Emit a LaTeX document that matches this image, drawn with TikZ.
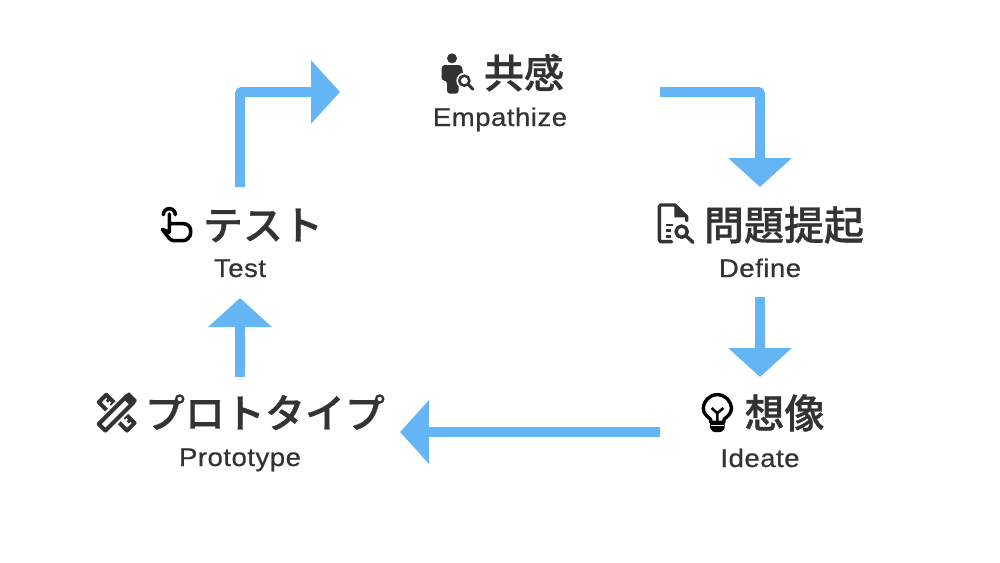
\documentclass[tikz,border=0pt]{standalone}
\usepackage{fontspec}
\setmainfont{Noto Sans}
\newfontfamily\cjk[FakeBold=0.7]{Noto Sans CJK JP Medium}
\newfontfamily\latin[FakeBold=0.6, FakeStretch=1.08, LetterSpace=2]{Liberation Sans}
\usetikzlibrary{arrows.meta, positioning}
\definecolor{clrFlow}{HTML}{64B5F6}
\definecolor{clrText}{HTML}{333333}
\tikzset{
  stage/.style = {rectangle, inner sep=0pt, outer sep=0pt, minimum width=#1},
  title/.style = {anchor=base, inner sep=0pt, text=clrText, font=\cjk\fontsize{40}{40}\selectfont},
  sub/.style = {anchor=base, inner sep=0pt, text=clrText, font=\latin\fontsize{25.5}{25.5}\selectfont},
  flow/.style = {-{Triangle[length=29pt, width=62pt]}, line width=10pt, color=clrFlow, rounded corners=2pt},
  icon/.style = {line width=3.4pt, line cap=round, line join=round},
}

\begin{document}
\begin{tikzpicture}[x=1pt, y=-1pt]
  \fill[white] (0,0) rectangle (1000,562);
  \useasboundingbox (0,0) rectangle (1000,562);

  % --- Stages (anchors carry the arrow ends) ---
  \node[stage=320pt, minimum height=10pt]  at (500, 92)    (Emp) {};
  \node[stage=200pt, minimum height=110pt] at (760, 242)   (Def) {};
  \node[stage=200pt, minimum height=110pt] at (760, 432)   (Ide) {};
  \node[stage=320pt, minimum height=110pt] at (240, 432)   (Pro) {};
  \node[stage=200pt, minimum height=111pt] at (240, 242.5) (Tes) {};

  % Stage links
  \draw[flow] (Emp.east) -| (Def.north);
  \draw[flow] (Def.south) -- (Ide.north);
  \draw[flow] (Ide.west) -- (Pro.east);
  \draw[flow] (Pro.north) -- (Tes.south);
  \draw[flow] (Tes.north) |- (Emp.west);

  % --- Labels ---
  \node[title] at (524, 88)  (T1) {共感};
  \node[sub]   at (500, 126) (L1) {Empathize};
  \node[title] at (784, 240) (T2) {問題提起};
  \node[sub]   at (760, 277) (L2) {Define};
  \node[title] at (784.5, 428) (T3) {想像};
  \node[sub]   at (760, 467) (L3) {Ideate};
  \node[title] at (265, 428) (T4) {プロトタイプ};
  \node[sub]   at (240, 466) (L4) {Prototype};
  \node[title] at (263, 240) (T5) {テスト};
  \node[sub]   at (240, 277) (L5) {Test};

  % --- Icons, person ---
  \begin{scope}[shift={(437,50)}, scale=1/3]
    \fill[clrText] (45,25) circle (15);
    \fill[clrText, rounded corners=3pt] (14,92) -- (14,45) -- (74,45) -- (82,92) -- (65,100) -- (65,131) -- (30,131) -- (30,92) -- cycle;
    \fill[white] (82,92) circle (24);
    \draw[clrText, line width=2.6pt] (82,92) circle (15);
    \draw[clrText, line width=3pt, line cap=round] (94,104) -- (108,118);
  \end{scope}

  % document
  \begin{scope}[shift={(640,190)}, scale=1/3]
    \draw[clrText, icon] (95,155) -- (62,155) -- (58,150) -- (58,50) -- (62,45) -- (105,45) -- (140,80) -- (140,92);
    \fill[clrText] (103,45) -- (140,82) -- (103,82) -- cycle;
    \draw[clrText, line width=2.6pt] (78,105) -- (100,105) (78,122) -- (92,122) (78,140) -- (92,140);
    \draw[clrText, icon] (125,125) circle (17);
    \draw[clrText, icon] (138,138) -- (159,157);
  \end{scope}

  % bulb
  \begin{scope}[shift={(680,380)}, scale=1/3]
    \draw[black, icon] (92,127) -- (92,118) .. controls (80,108) and (70,100) .. (70,86) arc[start angle=180, end angle=360, radius=42] .. controls (154,100) and (144,108) .. (132,118) -- (132,127) -- cycle;
    \draw[black, line width=2.6pt] (95,84) -- (112,100) -- (130,84) (112,100) -- (112,127);
    \fill[black, rounded corners=1pt] (90,125) -- (134,125) -- (134,146) -- (124,156) -- (100,156) -- (90,146) -- cycle;
    \draw[white, line width=1.2pt] (92,136) -- (132,136);
  \end{scope}

  % pencil and ruler
  \begin{scope}[shift={(85,380)}, scale=1/3]
    \begin{scope}[shift={(95,98)}, rotate=-45]
      \draw[clrText, line width=4pt, line join=round] (-60,-16) rectangle (60,16);
      \draw[clrText, line width=3pt] (-44,-16) -- (-44,-3) (-28,-16) -- (-28,-3) (28,-16) -- (28,-3) (44,-16) -- (44,-3);
    \end{scope}
    \begin{scope}[shift={(95,98)}, rotate=45]
      \draw[white, line width=3pt] (-52,-22) -- (48,-22) (-52,22) -- (48,22);
      \draw[clrText, line width=4pt, line join=round, fill=white] (-44,-14) -- (58,-14) -- (58,14) -- (-44,14) -- (-62,14) -- (-62,-14) -- cycle;
      \fill[clrText, rounded corners=1pt] (44,-18) rectangle (70,18);
    \end{scope}
  \end{scope}

  % touch
  \begin{scope}[shift={(155,198)}, scale=1/3]
    \draw[black, line width=3.6pt, line cap=round] (25,50) arc[start angle=180, end angle=360, radius=18];
    \draw[black, line width=3.6pt, line cap=round, line join=round] (43,48) -- (43,103) (43,77) -- (85,77) .. controls (97,77) and (107,86) .. (107,98) -- (107,104) .. controls (107,116) and (96,128) .. (84,128) -- (56,128) .. controls (50,128) and (46,124) .. (42,120) -- (22,94) -- (43,103);
  \end{scope}
\end{tikzpicture}
\end{document}
